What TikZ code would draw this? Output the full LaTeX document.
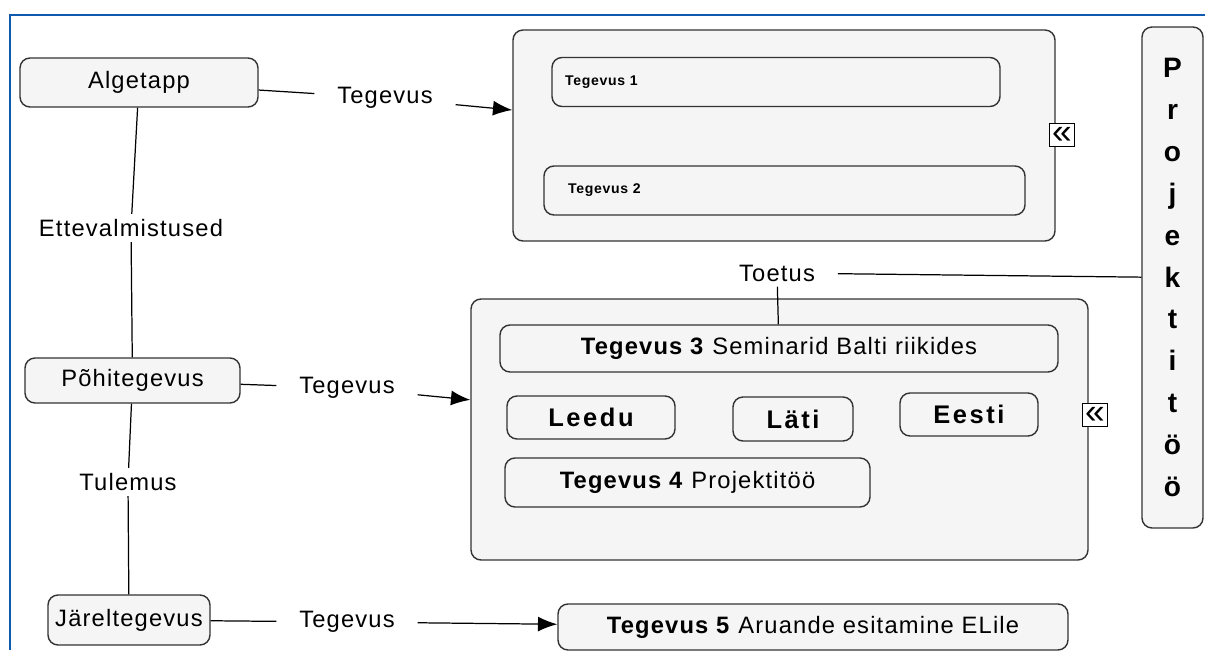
\documentclass[tikz,border=0pt]{standalone}
\usepackage{fontspec}
\setmainfont{Liberation Sans}[LetterSpace=5]
\newfontfamily\widefont{Liberation Sans}[LetterSpace=10]
\usetikzlibrary{arrows.meta}
\definecolor{boxfill}{HTML}{F5F5F5}
\definecolor{boxline}{HTML}{333333}
\definecolor{frameblue}{HTML}{0F5AAE}
\begin{document}
\begin{tikzpicture}[x=0.02cm, y=-0.02cm, >={Latex[length=11pt,width=8.5pt]},
  box/.style={draw=boxline, fill=boxfill, rounded corners=0.2cm, line width=0.8pt,
    inner sep=0pt, font=\fontsize{13.5}{16}\selectfont},
  sz/.style 2 args={minimum width=#1*0.02cm, minimum height=#2*0.02cm},
  lbl/.style={inner xsep=0.45cm, inner ysep=0.1cm, font=\fontsize{13.5}{16}\selectfont},
  small/.style={font=\bfseries\fontsize{8}{10}\selectfont, align=left},
  land/.style={font=\widefont\bfseries\fontsize{14.5}{17}\selectfont},
  icon/.style={draw, fill=white, line width=0.6pt, inner sep=0pt, minimum width=0.5cm,
    minimum height=0.46cm, font=\fontsize{20}{20}\selectfont},
  link/.style={line width=0.7pt}]
\useasboundingbox (0,0) rectangle (1205,650);
\draw[frameblue, line width=1.3pt] (10,650) -- (10,15) -- (1205,15);

\node[box, sz={238}{49}] (alg) at (139,82.5) {Algetapp};
\node[box, sz={215}{45}] (poh) at (132.5,380.5) {Põhitegevus};
\node[box, sz={162}{50}] (jar) at (129,620) {Järeltegevus};

\node[lbl] (ett) at (131,228) {Ettevalmistused};
\node[lbl] (tul) at (128,482) {Tulemus};
\node[lbl] (teg1) at (385,98) {Tegevus};
\node[lbl] (teg2) at (347,388) {Tegevus};
\node[lbl] (teg3) at (347,622) {Tegevus};

\node[box, sz={542}{211}] (box1) at (784,135.5) {};
\node[box, small, sz={448}{49}, inner xsep=0.26cm, text width=8.44cm] (t1) at (776,82) {Tegevus 1};
\node[box, small, sz={481}{49}, inner xsep=0.48cm, text width=8.66cm] (t2) at (784.5,190.5) {Tegevus 2};
\node[icon] (ic1) at (1062,135) {«};

\node[box, sz={617}{261}] (box2) at (779.5,429.5) {};
\node[box, sz={558}{47}] (t3) at (779,348.5) {\textbf{Tegevus 3} Seminarid Balti riikides};
\node[box, land, sz={168}{43}] (lee) at (591,417.5) {Leedu};
\node[box, land, sz={120}{44}] (lat) at (793,419) {Läti};
\node[box, land, sz={138}{43}] (ees) at (969,414.5) {Eesti};
\node[box, sz={365}{49}] (t4) at (687.5,482.5) {\textbf{Tegevus 4} Projektitöö};
\node[icon] (ic2) at (1095,415) {«};

\node[box, sz={510}{46}] (t5) at (813,627) {\textbf{Tegevus 5} Aruande esitamine ELile};

\node[box, sz={61}{501}, align=center, font=\bfseries\fontsize{16}{23.8}\selectfont] (proj)
  at (1172.5,277.5) {P\\r\\o\\j\\e\\k\\t\\i\\t\\ö\\ö};
\node[lbl] (toe) at (777,273) {Toetus};

\draw[link] (alg) -- (ett) -- (poh) -- (tul) -- (jar);
\draw[link] (alg) -- (teg1);
\draw[link, ->] (teg1) -- (box1);
\draw[link] (poh) -- (teg2);
\draw[link, ->] (teg2) -- (box2);
\draw[link] (jar) -- (teg3);
\draw[link, ->] (teg3) -- (t5);
\draw[link] (proj) -- (toe);
\draw[link] (toe) -- (t3);

\end{tikzpicture}
\end{document}
